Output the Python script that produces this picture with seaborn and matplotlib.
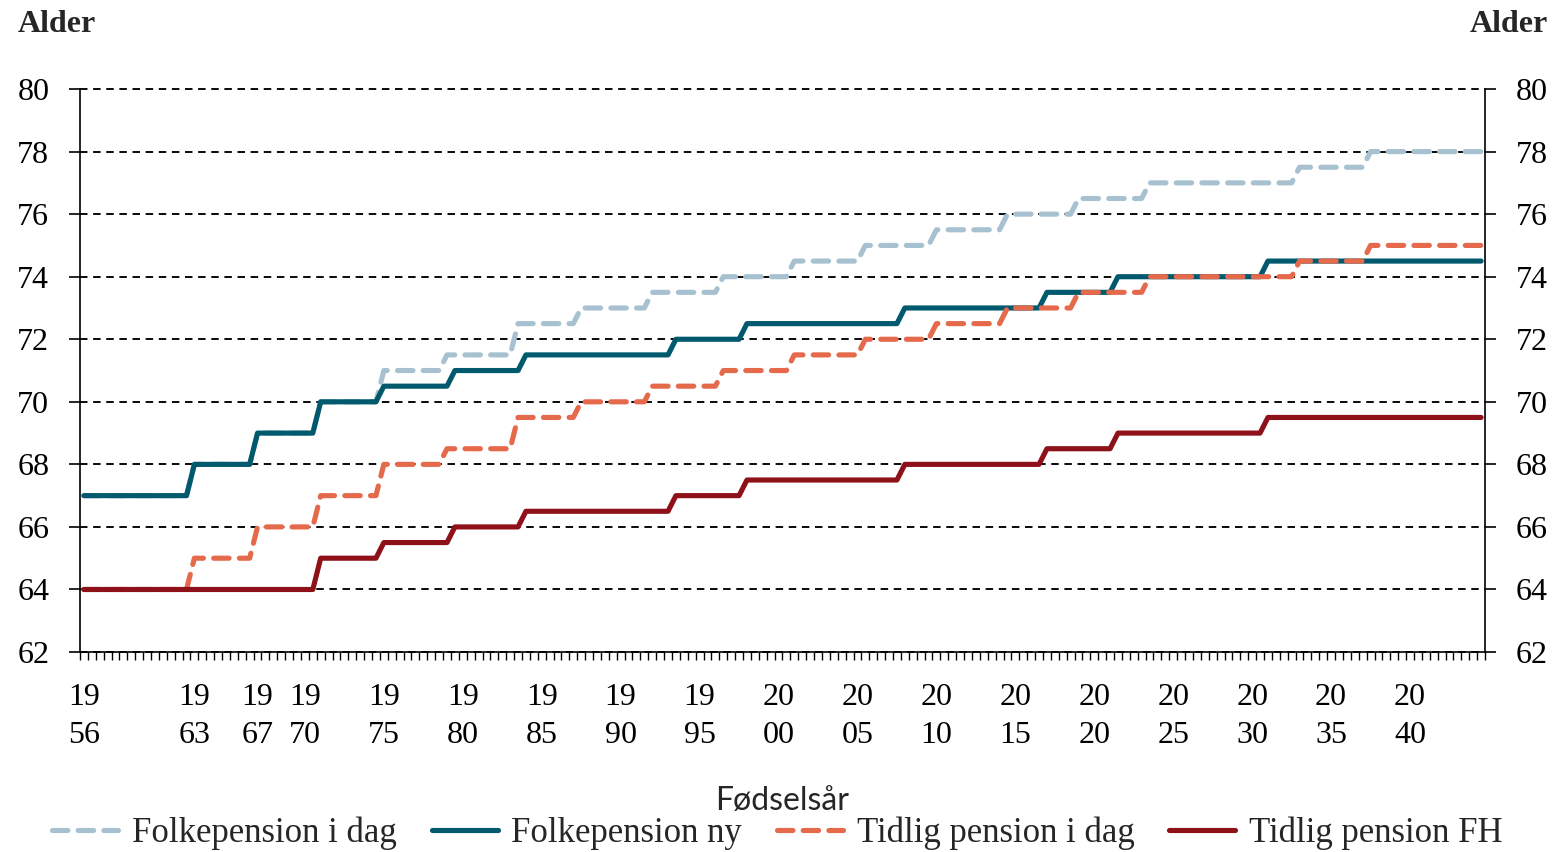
import numpy as np
import pandas as pd
import matplotlib
matplotlib.use("Agg")
import matplotlib.pyplot as plt
import seaborn as sns

# birth cohorts, half-year resolution
half_years = np.arange(1956, 2044.5 + 0.25, 0.5)

# first cohort with a new age, and that age
folk_dag_years = [1956, 1963, 1967, 1971, 1975, 1979, 1983.5, 1987.5, 1992, 1996.5,
                  2001, 2005.5, 2010, 2014.5, 2019, 2023.5, 2033, 2037.5]
folk_dag_ages = [67, 68, 69, 70, 71, 71.5, 72.5, 73, 73.5, 74,
                 74.5, 75, 75.5, 76, 76.5, 77, 77.5, 78]

folk_ny_years = [1956, 1963, 1967, 1971, 1975, 1979.5, 1984, 1993.5, 1998, 2008,
                 2017, 2021.5, 2031]
folk_ny_ages = [67, 68, 69, 70, 70.5, 71, 71.5, 72, 72.5, 73, 73.5, 74, 74.5]

tidlig_dag_years = [1956, 1963, 1967, 1971, 1975, 1979, 1983.5, 1987.5, 1992, 1996.5,
                    2001, 2005.5, 2010, 2014.5, 2019, 2023.5, 2033, 2037.5]
tidlig_dag_ages = [64, 65, 66, 67, 68, 68.5, 69.5, 70, 70.5, 71,
                   71.5, 72, 72.5, 73, 73.5, 74, 74.5, 75]

tidlig_fh_years = [1956, 1971, 1975, 1979.5, 1984, 1993.5, 1998, 2008, 2017, 2021.5, 2031]
tidlig_fh_ages = [64, 65, 65.5, 66, 66.5, 67, 67.5, 68, 68.5, 69, 69.5]

label_years = [1956, 1963, 1967, 1970, 1975, 1980, 1985, 1990, 1995, 2000,
               2005, 2010, 2015, 2020, 2025, 2030, 2035, 2040]


def step_series(change_years, ages):
    idx = np.searchsorted(change_years, half_years, side="right") - 1
    return np.array(ages, dtype=float)[idx]


df = pd.DataFrame({"aar": half_years})
df["Folkepension i dag"] = step_series(folk_dag_years, folk_dag_ages)
df["Folkepension ny"] = step_series(folk_ny_years, folk_ny_ages)
df["Tidlig pension i dag"] = step_series(tidlig_dag_years, tidlig_dag_ages)
df["Tidlig pension FH"] = step_series(tidlig_fh_years, tidlig_fh_ages)

styles = {
    "Folkepension i dag": ("#A7C1D0", (0, (3, 2))),
    "Folkepension ny": ("#00596D", "-"),
    "Tidlig pension i dag": ("#E5694B", (0, (3, 2))),
    "Tidlig pension FH": ("#8E1119", "-"),
}

sns.set_theme(style="white")
plt.rcParams["font.family"] = ["Liberation Serif", "DejaVu Serif"]

fig = plt.figure(figsize=(15.55, 8.52), dpi=100)
ax = fig.add_axes([0.0514, 0.2347, 0.9036, 0.6608])

for name, (col, ls) in styles.items():
    sns.lineplot(data=df, x="aar", y=name, ax=ax, color=col, linewidth=3.7,
                 linestyle=ls, dash_capstyle="round", solid_capstyle="round",
                 label=name, errorbar=None)

ax.set_xlim(1955.75, 2044.75)
ax.set_ylim(62, 80)
ax.set_yticks(np.arange(62, 81, 2))
ax.set_xticks(label_years)
ax.set_xticklabels([f"{str(y)[:2]}\n{str(y)[2:]}" for y in label_years],
                   linespacing=1.45)
ax.set_xticks(np.arange(1955.75, 2044.8, 0.5), minor=True)
ax.set_xlabel("")
ax.set_ylabel("")

ax.tick_params(axis="y", which="both", left=True, right=True, labelleft=True,
               labelright=True, direction="out", length=8, width=1.2,
               labelsize=23, pad=14, colors="black")
ax.tick_params(axis="x", which="major", length=0, labelsize=23, pad=22,
               colors="black")
ax.tick_params(axis="x", which="minor", bottom=True, direction="out",
               length=5.5, width=1.0, color="black")

ax.yaxis.grid(True, color="black", linestyle=(0, (4, 3)), linewidth=1.35)
for gl in ax.get_ygridlines():
    gl.set_clip_on(False)
ax.set_axisbelow(True)
for side in ["left", "right", "bottom"]:
    ax.spines[side].set_color("black")
    ax.spines[side].set_linewidth(1.2)
ax.spines["top"].set_visible(False)

fig.text(18 / 1555, 1 - 25 / 852, "Alder", ha="left", va="center",
         fontsize=23, fontweight="bold")
fig.text(1548 / 1555, 1 - 25 / 852, "Alder", ha="right", va="center",
         fontsize=23, fontweight="bold")
fig.text(0.503, 1 - 801 / 852, "Fødselsår", ha="center", va="center",
         fontsize=23, family=["Lato", "DejaVu Sans"])

handles, labels = ax.get_legend_handles_labels()
ax.get_legend().remove()
fig.legend(handles, labels, loc="center", bbox_to_anchor=(0.5, 1 - 833 / 852),
           ncol=4, frameon=False, fontsize=25, handlelength=1.9,
           handletextpad=0.4, columnspacing=1.0, borderaxespad=0)

fig.savefig("out.png", dpi=100)
